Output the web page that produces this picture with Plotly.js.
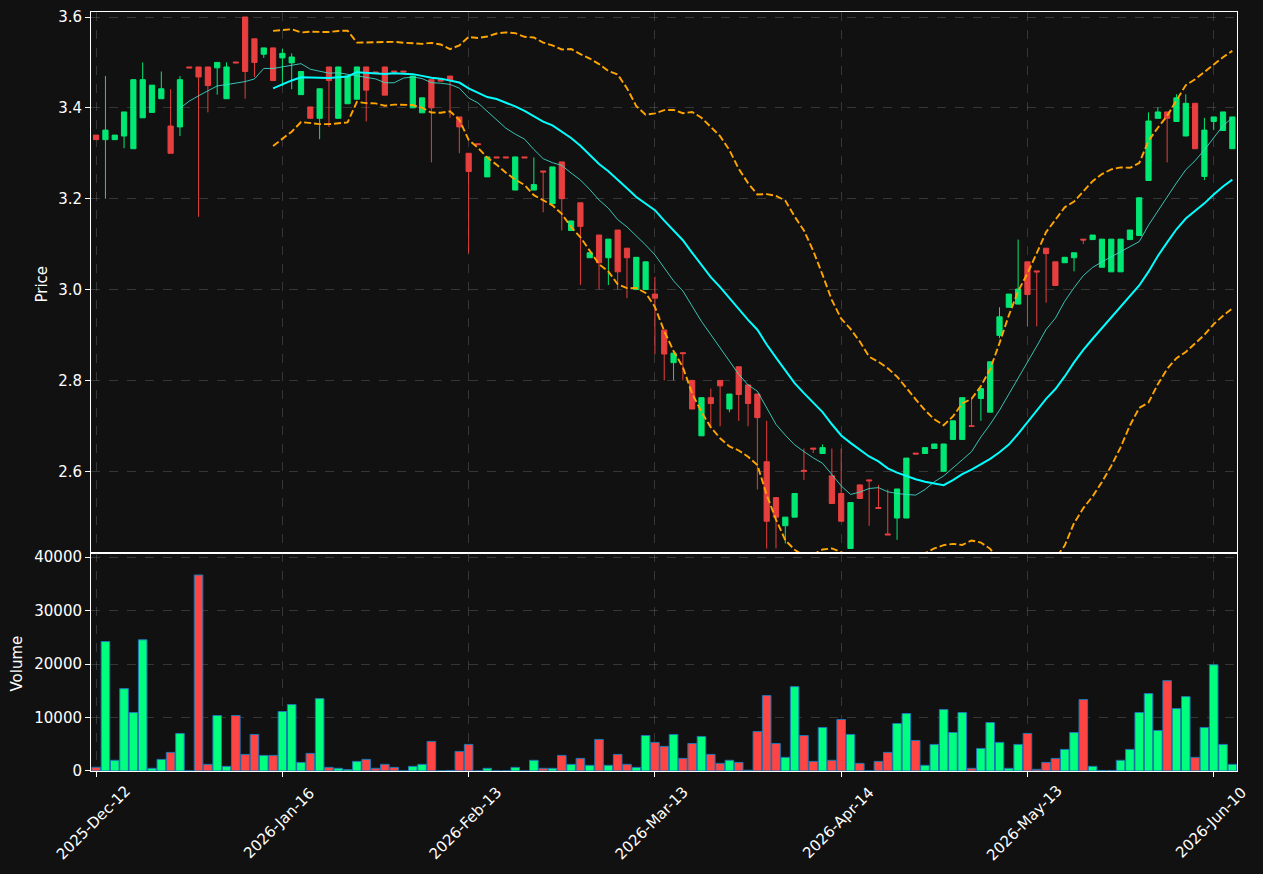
<!DOCTYPE html>
<html>
<head>
<meta charset="utf-8">
<script src="https://cdn.plot.ly/plotly-3.0.1.min.js"></script>
<style>
  html, body { margin: 0; padding: 0; background: #111111; }
  #chart { width: 1263px; height: 874px; }
</style>
</head>
<body>
<div id="chart"></div>
<script>
// ---- data ----
const tickIdx = [0, 20, 40, 60, 80, 100, 120];
const tickLabels = ["2025-Dec-12", "2026-Jan-16", "2026-Feb-13", "2026-Mar-13", "2026-Apr-14", "2026-May-13", "2026-Jun-10"];

const openP = [
  3.34, 3.33, 3.33, 3.338, 3.31, 3.378, 3.39, 3.42, 3.36, 3.358,
  3.49, 3.49, 3.49, 3.488, 3.42, 3.501, 3.60, 3.552, 3.518, 3.532,
  3.51, 3.499, 3.429, 3.402, 3.377, 3.49, 3.377, 3.409, 3.419, 3.49,
  3.479, 3.49, 3.481, 3.481, 3.40, 3.389, 3.462, 3.462, 3.47, 3.38,
  3.30, 3.321, 3.248, 3.292, 3.292, 3.219, 3.292, 3.219, 3.261, 3.189,
  3.281, 3.13, 3.191, 3.07, 3.12, 3.07, 3.131, 3.091, 3.0, 3.0,
  2.99, 2.911, 2.839, 2.861, 2.80, 2.678, 2.762, 2.80, 2.737, 2.83,
  2.79, 2.77, 2.621, 2.542, 2.48, 2.499, 2.602, 2.651, 2.639, 2.59,
  2.551, 2.43, 2.57, 2.581, 2.52, 2.462, 2.497, 2.497, 2.640, 2.639,
  2.65, 2.60, 2.67, 2.67, 2.70, 2.76, 2.73, 2.899, 2.961, 2.968,
  3.061, 3.041, 3.091, 3.061, 3.059, 3.07, 3.111, 3.11, 3.049, 3.039,
  3.039, 3.11, 3.119, 3.24, 3.377, 3.391, 3.37, 3.338, 3.41, 3.249,
  3.37, 3.35, 3.31
];
const highP = [
  3.34, 3.47, 3.34, 3.391, 3.462, 3.50, 3.45, 3.48, 3.441, 3.47,
  3.49, 3.49, 3.49, 3.50, 3.50, 3.501, 3.60, 3.552, 3.532, 3.532,
  3.53, 3.52, 3.48, 3.402, 3.442, 3.49, 3.49, 3.47, 3.49, 3.49,
  3.479, 3.49, 3.481, 3.481, 3.47, 3.422, 3.462, 3.462, 3.47, 3.38,
  3.30, 3.321, 3.292, 3.292, 3.292, 3.292, 3.292, 3.291, 3.261, 3.27,
  3.281, 3.151, 3.191, 3.081, 3.12, 3.111, 3.131, 3.091, 3.071, 3.061,
  3.028, 2.911, 2.86, 2.861, 2.80, 2.762, 2.782, 2.80, 2.77, 2.83,
  2.79, 2.77, 2.711, 2.542, 2.499, 2.551, 2.65, 2.651, 2.659, 2.65,
  2.65, 2.531, 2.57, 2.581, 2.57, 2.56, 2.561, 2.629, 2.640, 2.652,
  2.66, 2.66, 2.711, 2.762, 2.762, 2.782, 2.841, 2.961, 2.99, 3.11,
  3.061, 3.041, 3.091, 3.061, 3.071, 3.081, 3.111, 3.12, 3.111, 3.111,
  3.111, 3.131, 3.202, 3.39, 3.401, 3.391, 3.43, 3.43, 3.41, 3.378,
  3.38, 3.391, 3.38
];
const lowP = [
  3.33, 3.20, 3.33, 3.311, 3.31, 3.378, 3.39, 3.42, 3.30, 3.338,
  3.488, 3.16, 3.39, 3.429, 3.42, 3.499, 3.42, 3.468, 3.51, 3.46,
  3.448, 3.441, 3.429, 3.377, 3.331, 3.358, 3.377, 3.409, 3.419, 3.37,
  3.477, 3.428, 3.479, 3.479, 3.40, 3.389, 3.28, 3.459, 3.378, 3.30,
  3.08, 3.319, 3.248, 3.29, 3.29, 3.219, 3.29, 3.219, 3.17, 3.189,
  3.13, 3.13, 3.01, 3.07, 3.0, 3.01, 3.0, 2.981, 3.0, 3.0,
  2.858, 2.80, 2.80, 2.80, 2.737, 2.678, 2.698, 2.699, 2.73, 2.711,
  2.699, 2.56, 2.43, 2.43, 2.441, 2.499, 2.581, 2.64, 2.639, 2.529,
  2.49, 2.43, 2.54, 2.48, 2.518, 2.46, 2.449, 2.497, 2.638, 2.639,
  2.65, 2.60, 2.67, 2.67, 2.699, 2.711, 2.73, 2.893, 2.961, 2.968,
  2.919, 2.919, 2.971, 3.009, 3.059, 3.04, 3.10, 3.11, 3.049, 3.039,
  3.039, 3.11, 3.119, 3.24, 3.377, 3.28, 3.37, 3.338, 3.31, 3.241,
  3.351, 3.35, 3.31
];
const closeP = [
  3.33, 3.351, 3.34, 3.391, 3.462, 3.462, 3.45, 3.442, 3.30, 3.462,
  3.488, 3.468, 3.449, 3.50, 3.49, 3.499, 3.48, 3.50, 3.532, 3.46,
  3.52, 3.512, 3.48, 3.377, 3.442, 3.46, 3.49, 3.47, 3.49, 3.439,
  3.477, 3.428, 3.479, 3.479, 3.47, 3.422, 3.40, 3.459, 3.462, 3.358,
  3.26, 3.319, 3.292, 3.29, 3.29, 3.292, 3.29, 3.231, 3.259, 3.27,
  3.20, 3.151, 3.139, 3.081, 3.059, 3.111, 3.039, 3.07, 3.071, 3.061,
  2.981, 2.858, 2.86, 2.859, 2.737, 2.762, 2.749, 2.788, 2.77, 2.769,
  2.749, 2.718, 2.49, 2.499, 2.499, 2.551, 2.60, 2.649, 2.652, 2.529,
  2.49, 2.531, 2.54, 2.579, 2.518, 2.46, 2.561, 2.629, 2.638, 2.652,
  2.66, 2.66, 2.711, 2.762, 2.699, 2.782, 2.841, 2.94, 2.99, 3.001,
  2.989, 3.039, 3.079, 3.009, 3.071, 3.081, 3.109, 3.12, 3.111, 3.111,
  3.111, 3.131, 3.202, 3.371, 3.391, 3.377, 3.422, 3.41, 3.31, 3.351,
  3.38, 3.391, 3.38
];
const volume = [
  700, 24200, 2000, 15400, 10930, 24530, 500, 2170, 3480, 7020,
  0, 36640, 1240, 10370, 870, 10370, 3100, 6830, 2920, 2920,
  11120, 12420, 1610, 3290, 13540, 680, 500, 250, 1800, 2170,
  500, 1240, 680, 0, 870, 1240, 5530, 0, 100, 3660,
  4970, 0, 500, 0, 0, 680, 0, 2000, 500, 500,
  2920, 1240, 2360, 1060, 5900, 1060, 3100, 1240, 680, 6640,
  5340, 4600, 6830, 2360, 5150, 6460, 3100, 1430, 2000, 1610,
  150, 7390, 14100, 5150, 2550, 15770, 6640, 1800, 8140, 2000,
  9630, 6830, 1430, 0, 1800, 3480, 8880, 10740, 5710, 1060,
  4970, 11490, 7200, 10930, 500, 4220, 9070, 5340, 500, 4970,
  7020, 310, 1610, 2360, 4040, 7200, 13350, 870, 100, 100,
  2000, 4040, 10930, 14470, 7580, 16890, 11670, 13910, 2550, 8140,
  19870, 4970, 1240
];

// ---- derived indicators (rolling mean / Bollinger from closes) ----
const idx = closeP.map((_, i) => i);
function sma(arr, n) {
  return arr.map((_, i) => {
    if (i < n - 1) return null;
    let s = 0;
    for (let k = i - n + 1; k <= i; k++) s += arr[k];
    return s / n;
  });
}
function rstd(arr, n) {
  return arr.map((_, i) => {
    if (i < n - 1) return null;
    let s = 0;
    for (let k = i - n + 1; k <= i; k++) s += arr[k];
    const m = s / n;
    let v = 0;
    for (let k = i - n + 1; k <= i; k++) v += (arr[k] - m) * (arr[k] - m);
    return Math.sqrt(v / n);
  });
}
const ma10 = sma(closeP, 10);
const ma20 = sma(closeP, 20);
const sd20 = rstd(closeP, 20);
const bbUp = ma20.map((m, i) => m === null ? null : m + 2 * sd20[i]);
const bbLo = ma20.map((m, i) => m === null ? null : m - 2 * sd20[i]);

const UP = '#00ff7f', DOWN = '#ff4444';
const volColors = closeP.map((c, i) => c >= openP[i] ? UP : DOWN);

const traces = [
  {
    type: 'candlestick', x: idx, open: openP, high: highP, low: lowP, close: closeP,
    xaxis: 'x', yaxis: 'y', opacity: 0.9, whiskerwidth: 0,
    increasing: { line: { color: UP, width: 1 }, fillcolor: UP },
    decreasing: { line: { color: DOWN, width: 1 }, fillcolor: DOWN },
    hoverinfo: 'skip', showlegend: false
  },
  { type: 'scatter', mode: 'lines', x: idx, y: ma10, xaxis: 'x', yaxis: 'y',
    line: { color: '#40e0d0', width: 1 }, opacity: 0.85, showlegend: false, hoverinfo: 'skip' },
  { type: 'scatter', mode: 'lines', x: idx, y: ma20, xaxis: 'x', yaxis: 'y',
    line: { color: '#00ffff', width: 2 }, showlegend: false, hoverinfo: 'skip' },
  { type: 'scatter', mode: 'lines', x: idx, y: bbUp, xaxis: 'x', yaxis: 'y',
    line: { color: '#ffa500', width: 1.9, dash: '7px,3px' }, showlegend: false, hoverinfo: 'skip' },
  { type: 'scatter', mode: 'lines', x: idx, y: bbLo, xaxis: 'x', yaxis: 'y',
    line: { color: '#ffa500', width: 1.9, dash: '7px,3px' }, showlegend: false, hoverinfo: 'skip' },
  { type: 'bar', x: idx, y: volume, xaxis: 'x2', yaxis: 'y2', width: 0.92,
    marker: { color: volColors, line: { color: '#1f77b4', width: 1 } },
    showlegend: false, hoverinfo: 'skip' }
];

const FONT = 'DejaVu Sans, Liberation Sans, sans-serif';
const FS = 15;
const GRID = 'rgba(150,150,150,0.28)';
const volTop = 0.2872;
const xRange = [-0.55, 122.5];

const annotations = tickIdx.map((t, k) => ({
  x: t, xref: 'x2', y: 0, yref: 'paper', text: tickLabels[k],
  showarrow: false, textangle: -45, xanchor: 'center', yanchor: 'middle',
  xshift: -3, yshift: -52, font: { family: FONT, size: FS, color: '#ffffff' }
}));
annotations.push({
  x: 0, xref: 'paper', y: volTop + (1 - volTop) / 2, yref: 'paper', text: 'Price',
  showarrow: false, textangle: -90, xanchor: 'center', yanchor: 'middle',
  xshift: -49, yshift: -2, font: { family: FONT, size: FS, color: '#ffffff' }
});
annotations.push({
  x: 0, xref: 'paper', y: volTop / 2, yref: 'paper', text: 'Volume',
  showarrow: false, textangle: -90, xanchor: 'center', yanchor: 'middle',
  xshift: -73.5, yshift: -2, font: { family: FONT, size: FS, color: '#ffffff' }
});

const layout = {
  width: 1263, height: 874,
  margin: { l: 91, r: 26, t: 12, b: 103, pad: 0 },
  paper_bgcolor: '#111111', plot_bgcolor: '#111111',
  font: { family: FONT, size: FS, color: '#ffffff' },
  showlegend: false, boxgap: 0.44, boxgroupgap: 0, bargap: 0,
  xaxis: {
    domain: [0, 1], anchor: 'y', range: xRange, rangeslider: { visible: false },
    tickvals: tickIdx, showticklabels: false, ticks: '',
    showgrid: true, gridcolor: GRID, griddash: 'dash', gridwidth: 1,
    showline: true, mirror: true, linecolor: '#ffffff', linewidth: 1, zeroline: false
  },
  yaxis: {
    domain: [volTop, 1], anchor: 'x', range: [2.42, 3.611],
    tickvals: [2.6, 2.8, 3.0, 3.2, 3.4, 3.6], tickformat: '.1f',
    ticks: 'outside', ticklen: 5, tickcolor: '#ffffff', tickwidth: 1,
    tickfont: { family: FONT, size: FS, color: '#ffffff' },
    showgrid: true, gridcolor: GRID, griddash: 'dash', gridwidth: 1,
    showline: true, mirror: true, linecolor: '#ffffff', linewidth: 1, zeroline: false
  },
  xaxis2: {
    domain: [0, 1], anchor: 'y2', range: xRange, matches: 'x',
    tickvals: tickIdx, showticklabels: false, ticks: 'outside', ticklen: 5,
    tickcolor: '#ffffff', tickwidth: 1,
    showgrid: true, gridcolor: GRID, griddash: 'dash', gridwidth: 1,
    showline: true, mirror: true, linecolor: '#ffffff', linewidth: 1, zeroline: false
  },
  yaxis2: {
    domain: [0, volTop], anchor: 'x2', range: [0, 40750],
    tickvals: [0, 10000, 20000, 30000, 40000], tickformat: 'd',
    ticks: 'outside', ticklen: 5, tickcolor: '#ffffff', tickwidth: 1,
    tickfont: { family: FONT, size: FS, color: '#ffffff' },
    showgrid: true, gridcolor: GRID, griddash: 'dash', gridwidth: 1,
    showline: true, mirror: true, linecolor: '#ffffff', linewidth: 1, zeroline: false
  },
  annotations: annotations
};

Plotly.newPlot('chart', traces, layout, { displayModeBar: false, staticPlot: true });
</script>
</body>
</html>
